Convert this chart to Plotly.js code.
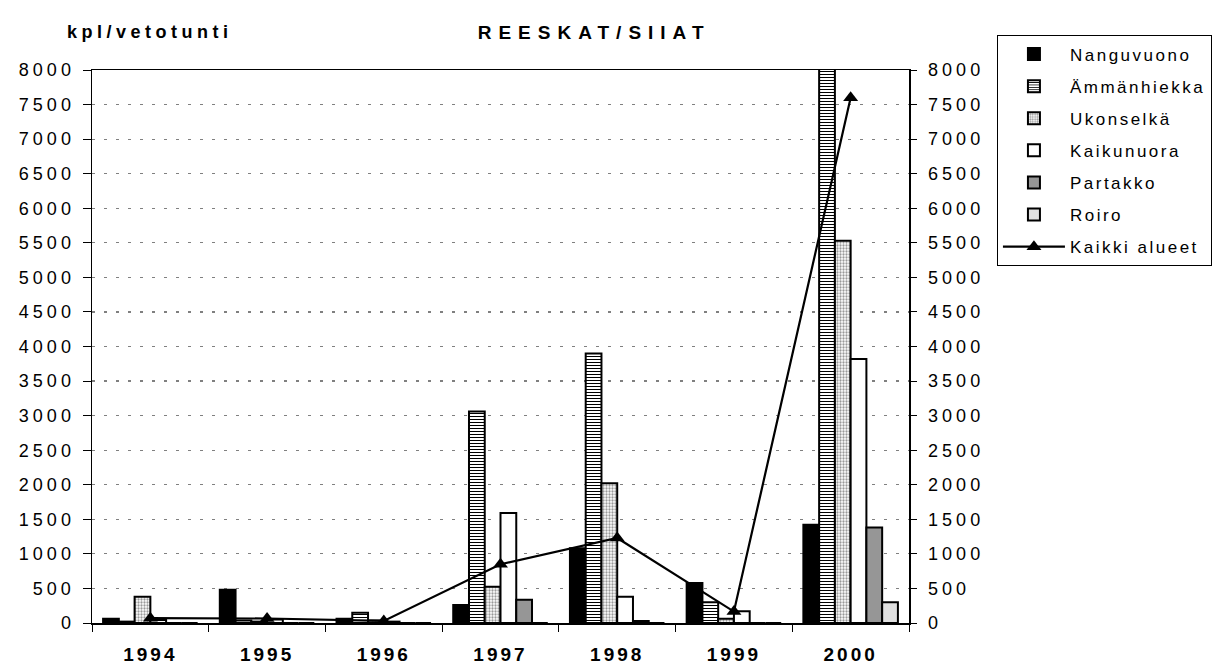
<!DOCTYPE html>
<html>
<head>
<meta charset="utf-8">
<script src="https://cdn.plot.ly/plotly-3.0.1.min.js"></script>
<style>
  html, body { margin: 0; padding: 0; background: #fff; }
  #chart { width: 1220px; height: 666px; }
  .ytick text, .y2tick text { letter-spacing: 4px; }
  .xtick text { letter-spacing: 3px; }
  .legendtext { letter-spacing: 2.5px; }
  .gtitle { letter-spacing: 7px; }
  .annotation-text { letter-spacing: 4.5px; }
</style>
</head>
<body>
<div id="chart"></div>
<script>
const years = ["1994", "1995", "1996", "1997", "1998", "1999", "2000"];
const nanguvuono = [60, 480, 60, 260, 1080, 580, 1420];
const ammanhiekka = [20, 35, 150, 3060, 3900, 300, 9000];
const ukonselka = [380, 20, 35, 525, 2020, 60, 5530];
const kaikunuora = [45, 50, 20, 1590, 380, 170, 3820];
const partakko = [0, 0, 0, 335, 30, 0, 1380];
const roiro = [0, 0, 0, 0, 0, 0, 300];
const kaikki = [70, 65, 30, 850, 1230, 165, 7600];

const font = "Liberation Sans, Arial, sans-serif";
const outline = { color: "#000", width: 2 };

function bar(name, y, marker) {
  return {
    x: years, y: y, type: "bar", name: name, legendgroup: name,
    marker: Object.assign({ line: outline }, marker),
    hoverinfo: "x+y+name"
  };
}

const traces = [
  bar("Nanguvuono", nanguvuono, { color: "#000" }),
  bar("Ämmänhiekka", ammanhiekka, {
    color: "#fff",
    pattern: { shape: "-", size: 3, solidity: 0.35, fgcolor: "#000", bgcolor: "#fff", fillmode: "replace" }
  }),
  bar("Ukonselkä", ukonselka, {
    color: "#fff",
    pattern: { shape: ".", size: 3, solidity: 0.45, fgcolor: "#999", bgcolor: "#fff", fillmode: "replace" }
  }),
  bar("Kaikunuora", kaikunuora, { color: "#fff" }),
  bar("Partakko", partakko, { color: "#969696" }),
  bar("Roiro", roiro, { color: "#e0e0e0" }),
  {
    x: years, y: kaikki, type: "scatter", mode: "lines+markers", name: "Kaikki alueet",
    legendgroup: "Kaikki alueet", yaxis: "y2", cliponaxis: false,
    line: { color: "#000", width: 2.2 },
    marker: { symbol: "triangle-up", size: 13, color: "#000" }
  }
];

const yTicks = [0, 500, 1000, 1500, 2000, 2500, 3000, 3500, 4000, 4500, 5000, 5500, 6000, 6500, 7000, 7500, 8000];

const layout = {
  width: 1220, height: 666,
  paper_bgcolor: "#fff", plot_bgcolor: "#fff",
  font: { family: font, color: "#000", size: 18 },
  margin: { l: 92, r: 311, t: 70, b: 43, autoexpand: false },
  barmode: "group", bargap: 0.19, bargroupgap: 0,
  showlegend: true,
  title: {
    text: "<b>REESKAT/SIIAT</b>", font: { size: 19, family: font },
    x: 0.487, xref: "container", xanchor: "center",
    y: 0.952, yref: "container", yanchor: "middle"
  },
  xaxis: {
    type: "category", tickson: "boundaries",
    ticks: "outside", ticklen: 7, tickcolor: "#000",
    showline: true, linecolor: "#000", linewidth: 1.5, mirror: true,
    showgrid: false, tickfont: { size: 19, family: font, weight: "bold" },
    ticklabelstandoff: 14, fixedrange: true
  },
  yaxis: {
    range: [0, 8000], tickvals: yTicks, ticks: "outside", ticklen: 8, tickcolor: "#000",
    showline: true, linecolor: "#000", linewidth: 1.5,
    showgrid: true, gridcolor: "#808080", gridwidth: 1.2, griddash: "3px,9px",
    zeroline: false, tickfont: { size: 18, family: font }, ticklabelstandoff: 4
  },
  yaxis2: {
    range: [0, 8000], tickvals: yTicks, overlaying: "y", side: "right",
    ticks: "outside", ticklen: 6, tickcolor: "#000",
    showline: true, linecolor: "#000", linewidth: 1.5,
    showgrid: false, zeroline: false, tickfont: { size: 18, family: font },
    ticklabelstandoff: 8
  },
  legend: {
    x: 0.817, xref: "container", xanchor: "left",
    y: 0.947, yref: "container", yanchor: "top",
    bordercolor: "#000", borderwidth: 1.2, bgcolor: "#fff",
    font: { size: 17, family: font }, itemwidth: 62, traceorder: "grouped",
    tracegroupgap: 7
  },
  annotations: [{
    text: "<b>kpl/vetotunti</b>", xref: "paper", yref: "paper",
    x: -0.033, y: 1.069, xanchor: "left", yanchor: "middle",
    showarrow: false, font: { size: 18, family: font }
  }]
};

Plotly.newPlot("chart", traces, layout, { displayModeBar: false, staticPlot: true });
</script>
</body>
</html>
